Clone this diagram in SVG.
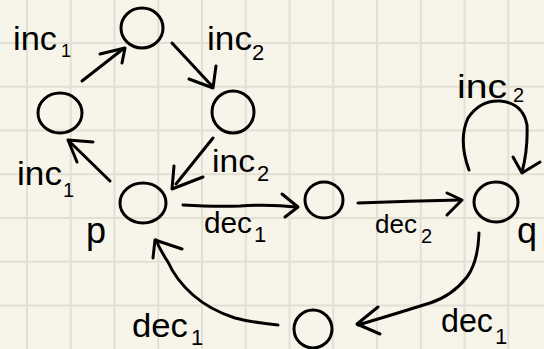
<svg xmlns="http://www.w3.org/2000/svg" width="544" height="349" viewBox="0 0 544 349">
<style>
.bg{fill:#f7f5ea}
.grid{stroke:#e2e0d4;stroke-width:2;fill:none}
.ink{stroke:#000;stroke-width:3;fill:none;stroke-linecap:round;stroke-linejoin:round}
.lbl{font-family:"Liberation Sans",Arial,sans-serif;fill:#000}
</style>
<rect class="bg" x="0" y="0" width="544" height="349"/>
<path class="grid" d="M27 0V349M70.75 0V349M114.5 0V349M158.25 0V349M202 0V349M245.75 0V349M289.5 0V349M333.25 0V349M377 0V349M420.75 0V349M464.5 0V349M508.25 0V349M0 43H544M0 86.75H544M0 130.5H544M0 174.25H544M0 218H544M0 261.75H544M0 305.5H544"/>
<g id="connectors">
<g id="e-left-top"><path class="ink" d="M82 81 L123 49"/><polyline class="ink" points="100,54 125,48 122,63"/></g>
<g id="e-top-right"><path class="ink" d="M172 43 L212 86"/><polyline class="ink" points="189,79 213,88 216,66"/></g>
<g id="e-right-p"><path class="ink" d="M213 138 L176 184"/><polyline class="ink" points="174,166 172,189 203,177"/></g>
<g id="e-p-left"><path class="ink" d="M110 181 L70 142"/><polyline class="ink" points="77,162 68,140 93,142"/></g>
<g id="e-p-mid"><path class="ink" d="M183 205 Q215 207 240 206 Q270 204 296 207"/><polyline class="ink" points="282,194 298,207 285,217"/></g>
<g id="e-mid-q"><path class="ink" d="M358 203 Q410 201 460 200"/><polyline class="ink" points="447,193 462,200 447,215"/></g>
<g id="e-q-loop"><path class="ink" d="M469 170 Q458 140 468 118 Q480 100 500 101 Q523 103 527 125 Q528 150 522 172"/><polyline class="ink" points="513,157 522,173 540,162"/></g>
<g id="e-q-bottom"><path class="ink" d="M479 233 Q478 262 467 277 Q452 296 430 303 Q395 314 358 325"/><polyline class="ink" points="378,307 357,324 380,334"/></g>
<g id="e-bottom-p"><path class="ink" d="M278 325 Q250 322 235 318 Q210 310 193 295 Q176 280 168 262 Q160 250 156 240"/><polyline class="ink" points="153,258 155,240 182,249"/></g>
</g>
<g id="n-top"><ellipse class="ink" cx="142" cy="28" rx="21" ry="20"/></g>
<g id="n-left"><ellipse class="ink" cx="60" cy="113" rx="22" ry="20"/></g>
<g id="n-right"><ellipse class="ink" cx="233" cy="112" rx="21" ry="21"/></g>
<g id="n-p"><ellipse class="ink" cx="143" cy="203" rx="23" ry="20"/></g>
<g id="n-mid"><ellipse class="ink" cx="324" cy="200" rx="19" ry="18"/></g>
<g id="n-q"><ellipse class="ink" cx="496" cy="202" rx="22" ry="20"/></g>
<g id="n-bottom"><ellipse class="ink" cx="313" cy="329" rx="19" ry="19"/></g>
<g id="labels">
<text class="lbl" x="13" y="50" font-size="34" textLength="44" lengthAdjust="spacingAndGlyphs">inc</text><text class="lbl" x="61" y="57" font-size="18">1</text>
<text class="lbl" x="207" y="50" font-size="34" textLength="45" lengthAdjust="spacingAndGlyphs">inc</text><text class="lbl" x="252" y="60" font-size="22">2</text>
<text class="lbl" x="17" y="185" font-size="34" textLength="45" lengthAdjust="spacingAndGlyphs">inc</text><text class="lbl" x="63" y="197" font-size="20">1</text>
<text class="lbl" x="212" y="172" font-size="32" textLength="43" lengthAdjust="spacingAndGlyphs">inc</text><text class="lbl" x="257" y="181" font-size="22">2</text>
<text class="lbl" x="86" y="243" font-size="36">p</text>
<text class="lbl" x="204" y="233" font-size="30" textLength="48" lengthAdjust="spacingAndGlyphs">dec</text><text class="lbl" x="254" y="242" font-size="22">1</text>
<text class="lbl" x="132" y="337" font-size="33" textLength="56" lengthAdjust="spacingAndGlyphs">dec</text><text class="lbl" x="191" y="345" font-size="22">1</text>
<text class="lbl" x="375" y="233" font-size="26">dec</text><text class="lbl" x="421" y="243" font-size="20">2</text>
<text class="lbl" x="457" y="98" font-size="34" textLength="50" lengthAdjust="spacingAndGlyphs">inc</text><text class="lbl" x="513" y="102" font-size="20">2</text>
<text class="lbl" x="441" y="332" font-size="33" textLength="52" lengthAdjust="spacingAndGlyphs">dec</text><text class="lbl" x="495" y="344" font-size="22">1</text>
<text class="lbl" x="517" y="243" font-size="36">q</text>
</g>
</svg>
